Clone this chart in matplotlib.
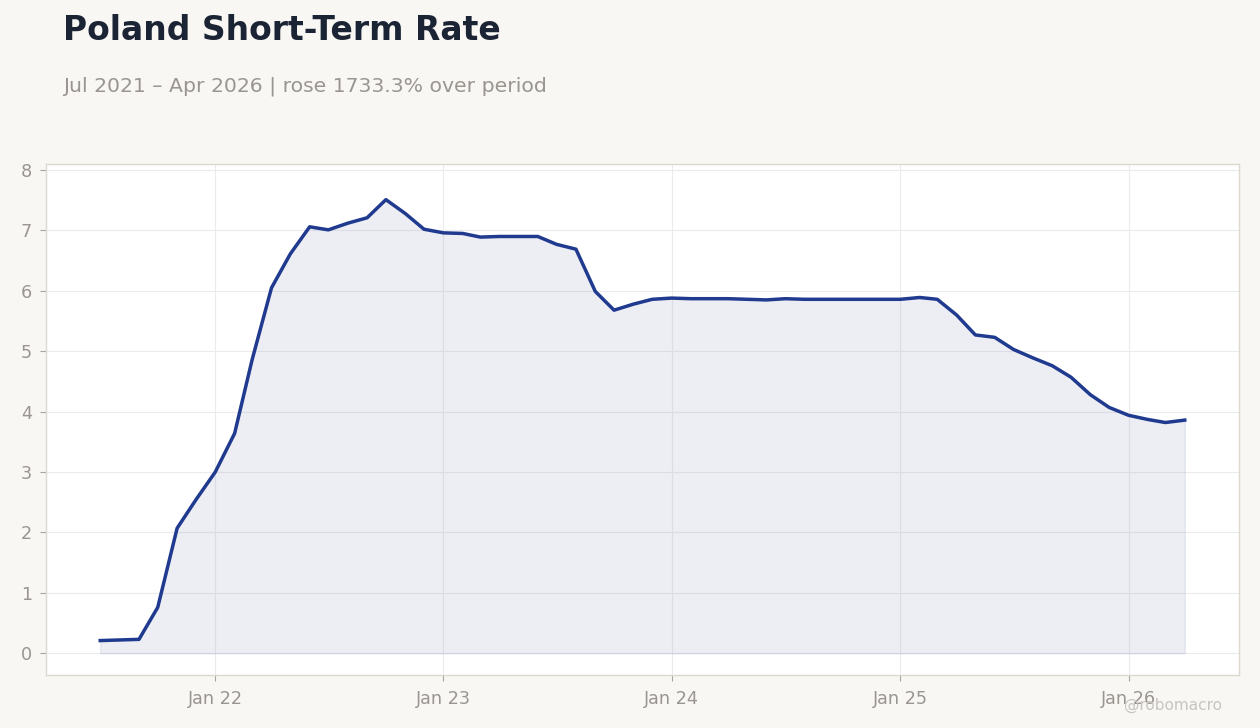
import matplotlib
matplotlib.use("Agg")
import matplotlib.pyplot as plt
import matplotlib.dates as mdates
import pandas as pd
import numpy as np

start_month = "2021-07-01"
end_month = "2026-04-01"
rates = [0.21, 0.22, 0.23, 0.76, 2.07, 2.54, 3.00, 3.64, 4.86, 6.05, 6.61, 7.06,
         7.01, 7.12, 7.21, 7.51, 7.28, 7.02, 6.96, 6.95, 6.89, 6.90, 6.90, 6.90,
         6.77, 6.69, 5.99, 5.68, 5.78, 5.86, 5.88, 5.87, 5.87, 5.87, 5.86, 5.85,
         5.87, 5.86, 5.86, 5.86, 5.86, 5.86, 5.86, 5.89, 5.86, 5.60, 5.27, 5.23,
         5.03, 4.89, 4.76, 4.57, 4.28, 4.07, 3.94, 3.87, 3.82, 3.86]
title = "Poland Short-Term Rate"
subtitle = "Jul 2021 \u2013 Apr 2026 | rose 1733.3% over period"
yticks = [0, 1, 2, 3, 4, 5, 6, 7, 8]
xtick_dates = ["2022-01-01", "2023-01-01", "2024-01-01", "2025-01-01", "2026-01-01"]

dates = pd.date_range(start_month, end_month, freq="MS")
vals = np.array(rates)

bg = "#f8f7f4"
line_c = "#1f3a8f"
grey = "#9a9590"

fig = plt.figure(figsize=(12.6, 7.28), dpi=100, facecolor=bg)
ax = fig.add_axes([46/1260, 1 - 675/728, (1239-46)/1260, (675-164)/728])
ax.set_facecolor("white")

ax.fill_between(dates, vals, 0, color="#3a4a80", alpha=0.09, linewidth=1.0,
                edgecolor=(0.2, 0.28, 0.55, 0.12))
ax.plot(dates, vals, color=line_c, linewidth=2.5, solid_joinstyle="round")

ax.set_ylim(-0.36, 8.1)
ax.set_yticks(yticks)
ax.set_xticks(pd.to_datetime(xtick_dates))
ax.xaxis.set_major_formatter(mdates.DateFormatter("Jan %y"))
ax.grid(True, color="#ebebef", linewidth=0.8)
ax.set_axisbelow(True)
for s in ax.spines.values():
    s.set_color("#ddd8d0")
    s.set_linewidth(1.0)
ax.tick_params(colors="#aaa5a0", labelcolor=grey, labelsize=12.7, length=4, width=0.8)
ax.tick_params(axis="x", pad=7)
ax.tick_params(axis="y", pad=6)

fig.text(63/1260, 1 - 31/728, title, fontsize=23.8, fontweight="bold", color="#1b2434",
         ha="left", va="center")
fig.text(63/1260, 1 - 86/728, subtitle, fontsize=14.7, color=grey, ha="left", va="center")
fig.text(1222/1260, 1 - 705/728, "@robomacro", fontsize=11, color="#c8c4bf",
         ha="right", va="center")

fig.savefig("out.png", dpi=100, facecolor=bg)
